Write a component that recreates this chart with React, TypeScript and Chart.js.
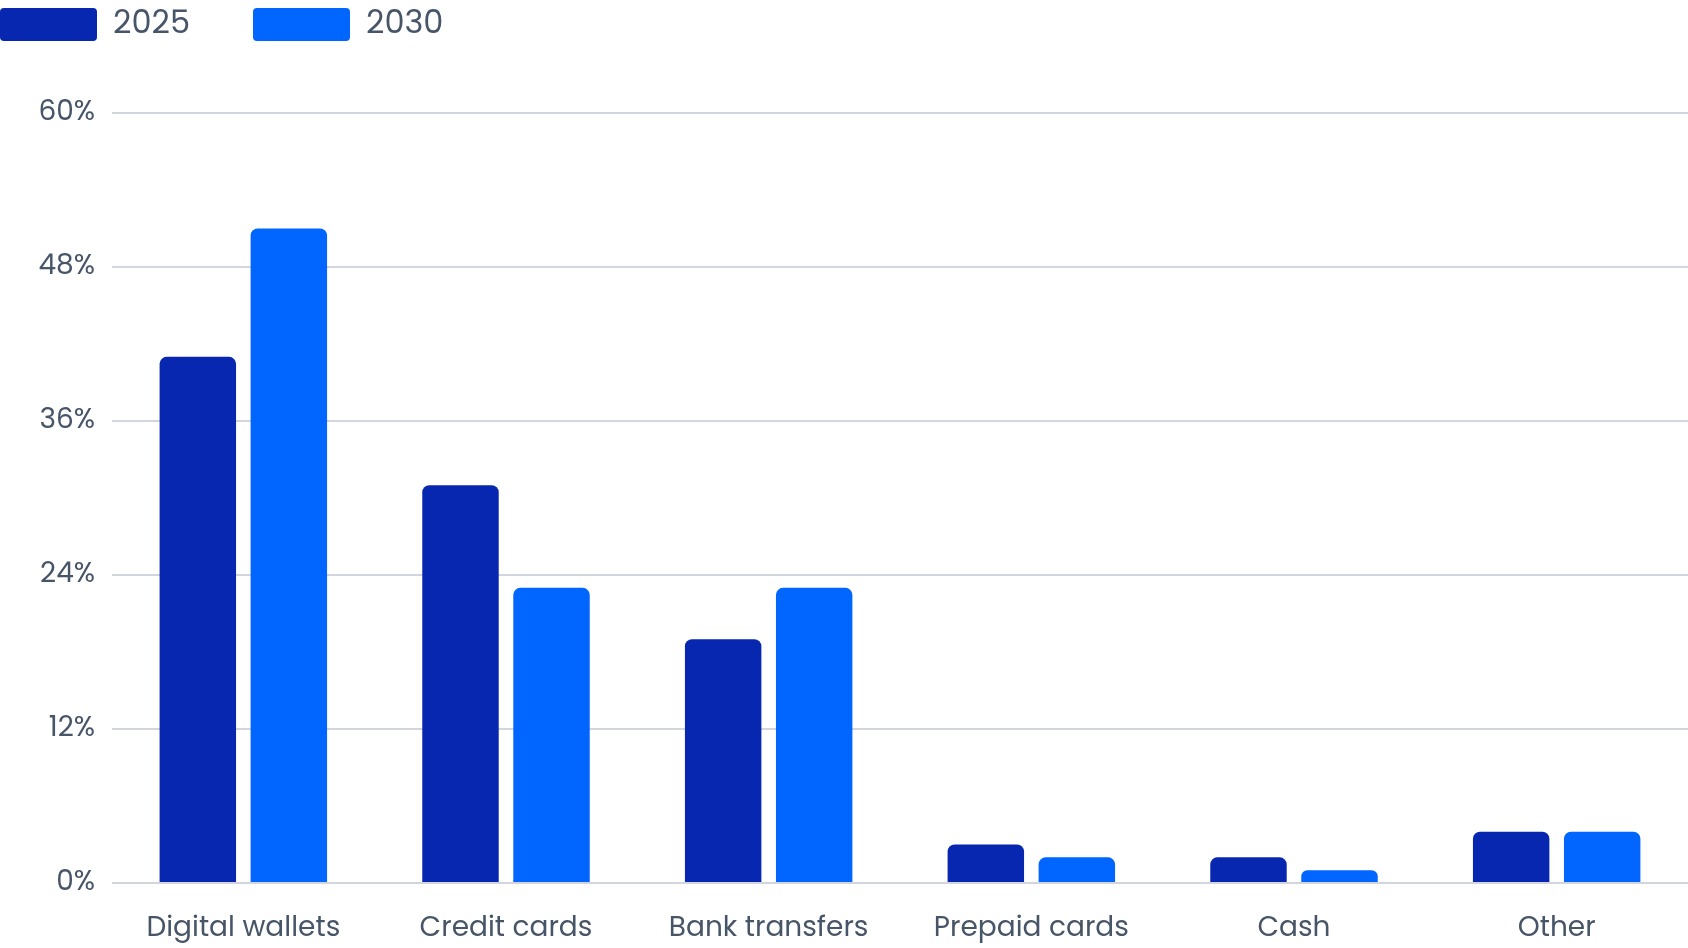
import { useEffect, useRef } from 'react'
import { Chart, registerables } from 'chart.js'

Chart.register(...registerables)

const categories = ['Digital wallets', 'Credit cards', 'Bank transfers', 'Prepaid cards', 'Cash', 'Other']
const share2025 = [41, 31, 19, 3, 2, 4]
const share2030 = [51, 23, 23, 2, 1, 4]
const yTicks = [0, 12, 24, 36, 48, 60]

const FONT = 'Poppins, "Open Sans", sans-serif'
const TEXT = '#475569'
const GAP = 63        // legend item gap (chart.js also uses it as the legend inset, so the canvas is pulled left/up by it)
const TOP_SHIFT = 55

// push the plot area down below the legend
const legendSpacer = {
  id: 'legendSpacer',
  beforeInit(chart: any) {
    const fit = chart.legend.fit
    chart.legend.fit = function () {
      fit.call(this)
      this.height += 62
    }
  },
}

export default function App() {
  const canvasRef = useRef<HTMLCanvasElement>(null)
  const chartRef = useRef<Chart | null>(null)

  useEffect(() => {
    if (!canvasRef.current) return
    if (chartRef.current) chartRef.current.destroy()

    chartRef.current = new Chart(canvasRef.current, {
      type: 'bar',
      data: {
        labels: categories,
        datasets: [
          {
            label: '2025',
            data: share2025,
            backgroundColor: '#0727b0',
            borderRadius: { topLeft: 7, topRight: 7 },
            borderSkipped: 'start',
            categoryPercentage: 0.693,
            barPercentage: 0.84,
          },
          {
            label: '2030',
            data: share2030,
            backgroundColor: '#0066ff',
            borderRadius: { topLeft: 7, topRight: 7 },
            borderSkipped: 'start',
            categoryPercentage: 0.693,
            barPercentage: 0.84,
          },
        ],
      },
      options: {
        responsive: true,
        maintainAspectRatio: false,
        animation: false,
        plugins: {
          legend: {
            position: 'top',
            align: 'start',
            labels: {
              boxWidth: 97,
              boxHeight: 33,
              padding: GAP,
              useBorderRadius: true,
              borderRadius: 4,
              color: TEXT,
              font: { family: FONT, size: 32 },
            },
          },
          tooltip: { enabled: false },
        },
        scales: {
          x: {
            grid: { display: false },
            border: { display: false },
            ticks: { color: TEXT, font: { family: FONT, size: 28 }, padding: 21 },
            afterFit: (s: any) => { s.height = 65 },
          },
          y: {
            min: yTicks[0],
            max: yTicks[yTicks.length - 1],
            grid: { color: '#d3d5de', lineWidth: 2, drawTicks: false },
            border: { display: false },
            ticks: {
              stepSize: yTicks[1] - yTicks[0],
              color: TEXT,
              font: { family: FONT, size: 28 },
              padding: 17,
              callback: v => v + '%',
            },
            afterFit: (s: any) => { s.width = 112 + GAP },
          },
        },
      },
      plugins: [legendSpacer],
    })

    return () => { chartRef.current?.destroy() }
  }, [])

  return (
    <div
      style={{
        position: 'fixed',
        left: -GAP,
        top: -TOP_SHIFT,
        width: 1688 + GAP,
        height: 948 + TOP_SHIFT,
        background: '#fff',
      }}
    >
      <canvas ref={canvasRef} role="img" aria-label="Payment method share, 2025 vs 2030" />
    </div>
  )
}
